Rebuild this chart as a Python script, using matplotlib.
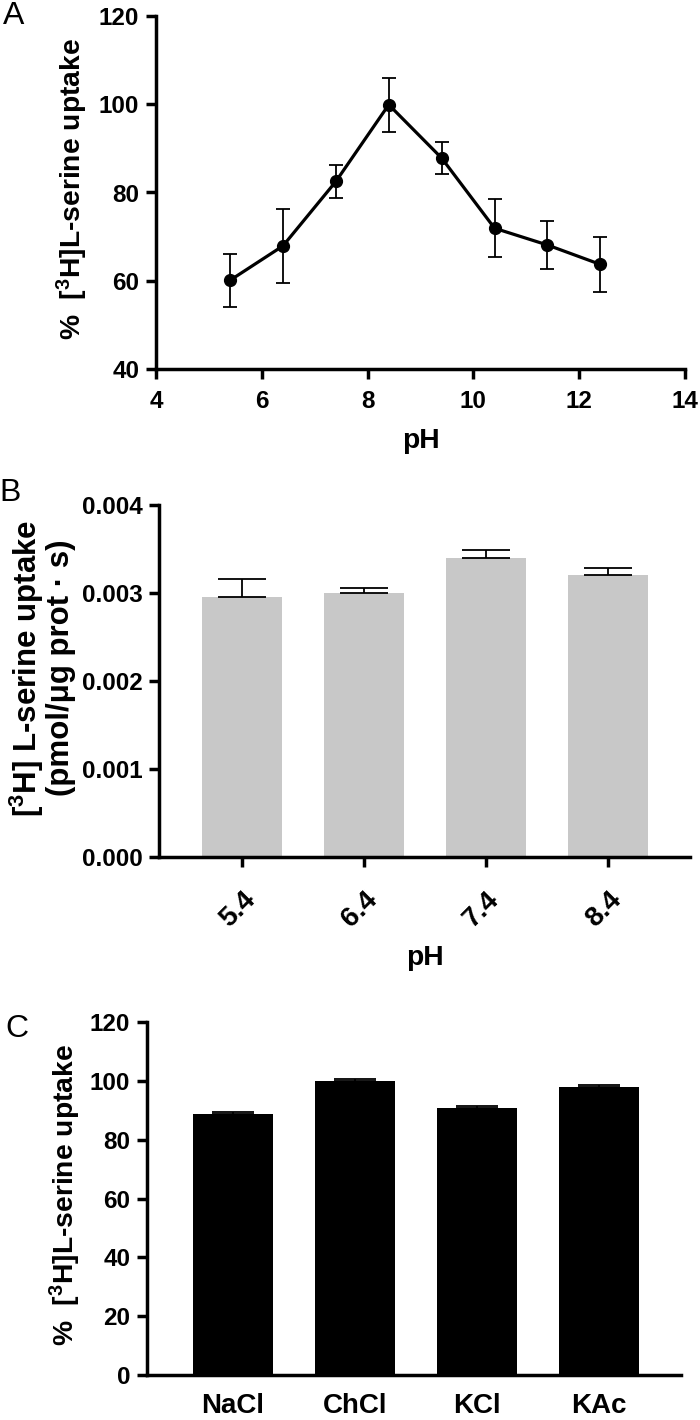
import matplotlib
matplotlib.use("Agg")
import matplotlib.pyplot as plt
import numpy as np

FAM = ['Liberation Sans', 'DejaVu Sans']
plt.rcParams['font.family'] = FAM
plt.rcParams['font.weight'] = 'bold'
plt.rcParams['mathtext.fontset'] = 'custom'
plt.rcParams['mathtext.bf'] = 'Liberation Sans:bold'
plt.rcParams['mathtext.rm'] = 'Liberation Sans:bold'
plt.rcParams['mathtext.default'] = 'bf'

# Panel A data
ph_a = [5.4, 6.4, 7.4, 8.4, 9.4, 10.4, 11.4, 12.4]
uptake_a = [60.1, 67.9, 82.5, 99.9, 87.8, 71.9, 68.1, 63.7]
err_a = [6.0, 8.4, 3.7, 6.1, 3.7, 6.6, 5.4, 6.2]

# Panel B data
ph_b = ['5.4', '6.4', '7.4', '8.4']
uptake_b = [0.00296, 0.00300, 0.00340, 0.00320]
err_b = [0.00020, 0.00006, 0.00009, 0.00008]

# Panel C data
salts = ['NaCl', 'ChCl', 'KCl', 'KAc']
uptake_c = [88.7, 99.8, 90.8, 97.8]
err_c = [0.6, 0.9, 0.5, 0.9]

W, H = 700, 1420
fig = plt.figure(figsize=(W / 100, H / 100), dpi=100)

def ax_rect(l, r, t, b):
    return [l / W, 1 - b / H, (r - l) / W, (b - t) / H]

def ftext(x, y, s, **kw):
    return fig.text(x / W, 1 - y / H, s, **kw)

TICK_FS = 17.5
CAT_FS = 20
LAB_FS = 20.3
AX_LW = 2.5
LETTER_FAM = ['Liberation Sans', 'DejaVu Sans']

def style(ax):
    for s in ['top', 'right']:
        ax.spines[s].set_visible(False)
    for s in ['left', 'bottom']:
        ax.spines[s].set_linewidth(AX_LW)
    ax.tick_params(width=AX_LW, length=7, labelsize=TICK_FS, direction='out', pad=5)
    for lab in ax.get_xticklabels() + ax.get_yticklabels():
        lab.set_fontweight('bold')

# ---------- Panel A ----------
axA = fig.add_axes(ax_rect(156, 685, 16, 369))
axA.errorbar(ph_a, uptake_a, yerr=err_a, color='black', lw=2.3, marker='o',
             ms=8.5, elinewidth=1.3, capsize=5, capthick=1.3)
axA.set_xlim(4, 14)
axA.set_ylim(40, 120)
axA.set_xticks([4, 6, 8, 10, 12, 14])
axA.set_yticks([40, 60, 80, 100, 120])
style(axA)
axA.tick_params(axis='x', pad=8)
ftext(421, 441, 'pH', fontsize=LAB_FS, fontweight='bold', ha='center', va='center')
ftext(72, 189, r'%  [$^{3}$H]L-serine uptake', fontsize=LAB_FS, fontweight='bold',
      rotation=90, ha='center', va='center')
ftext(14, 16, 'A', fontsize=23, fontweight='normal', ha='center', va='center', family=LETTER_FAM)

# ---------- Panel B ----------
axB = fig.add_axes(ax_rect(159, 690, 505, 857))
xb = np.arange(len(ph_b))
axB.bar(xb, uptake_b, width=0.66, color='#c8c8c8', edgecolor='none')
axB.errorbar(xb, uptake_b, yerr=[np.zeros(len(err_b)), err_b], fmt='none',
             ecolor='black', elinewidth=1.3, capsize=17, capthick=1.3)
axB.set_xlim(-0.68, 3.672)
axB.set_ylim(0, 0.004)
axB.set_yticks([0.000, 0.001, 0.002, 0.003, 0.004])
axB.set_yticklabels(['0.000', '0.001', '0.002', '0.003', '0.004'])
axB.set_xticks(xb)
axB.set_xticklabels(ph_b, rotation=45, ha='right', rotation_mode='anchor')
style(axB)
axB.tick_params(axis='x', pad=14, labelsize=CAT_FS)
ftext(425, 958, 'pH', fontsize=LAB_FS, fontweight='bold', ha='center', va='center')
ftext(42, 668, '[$^{3}$H] L-serine uptake\n(pmol/\u03bcg prot \u00b7 s)', fontsize=22.5,
      fontweight='bold', rotation=90, ha='center', va='center', linespacing=1.0,
      multialignment='center')
ftext(10, 493, 'B', fontsize=23, fontweight='normal', ha='center', va='center', family=LETTER_FAM)

# ---------- Panel C ----------
axC = fig.add_axes(ax_rect(147, 681, 1022, 1375))
xc = np.arange(len(salts))
axC.bar(xc, uptake_c, width=0.66, color='black', edgecolor='none')
axC.errorbar(xc, uptake_c, yerr=[np.zeros(len(err_c)), err_c], fmt='none',
             ecolor='black', elinewidth=1.3, capsize=15, capthick=1.3)
axC.set_xlim(-0.705, 3.672)
axC.set_ylim(0, 120)
axC.set_yticks([0, 20, 40, 60, 80, 100, 120])
axC.set_xticks(xc)
axC.set_xticklabels(salts)
style(axC)
axC.tick_params(axis='x', length=0, pad=13, labelsize=CAT_FS)
ftext(65, 1195, r'%  [$^{3}$H]L-serine uptake', fontsize=LAB_FS, fontweight='bold',
      rotation=90, ha='center', va='center')
ftext(17, 1029, 'C', fontsize=23, fontweight='normal', ha='center', va='center', family=LETTER_FAM)

fig.savefig('out.png', dpi=100)
